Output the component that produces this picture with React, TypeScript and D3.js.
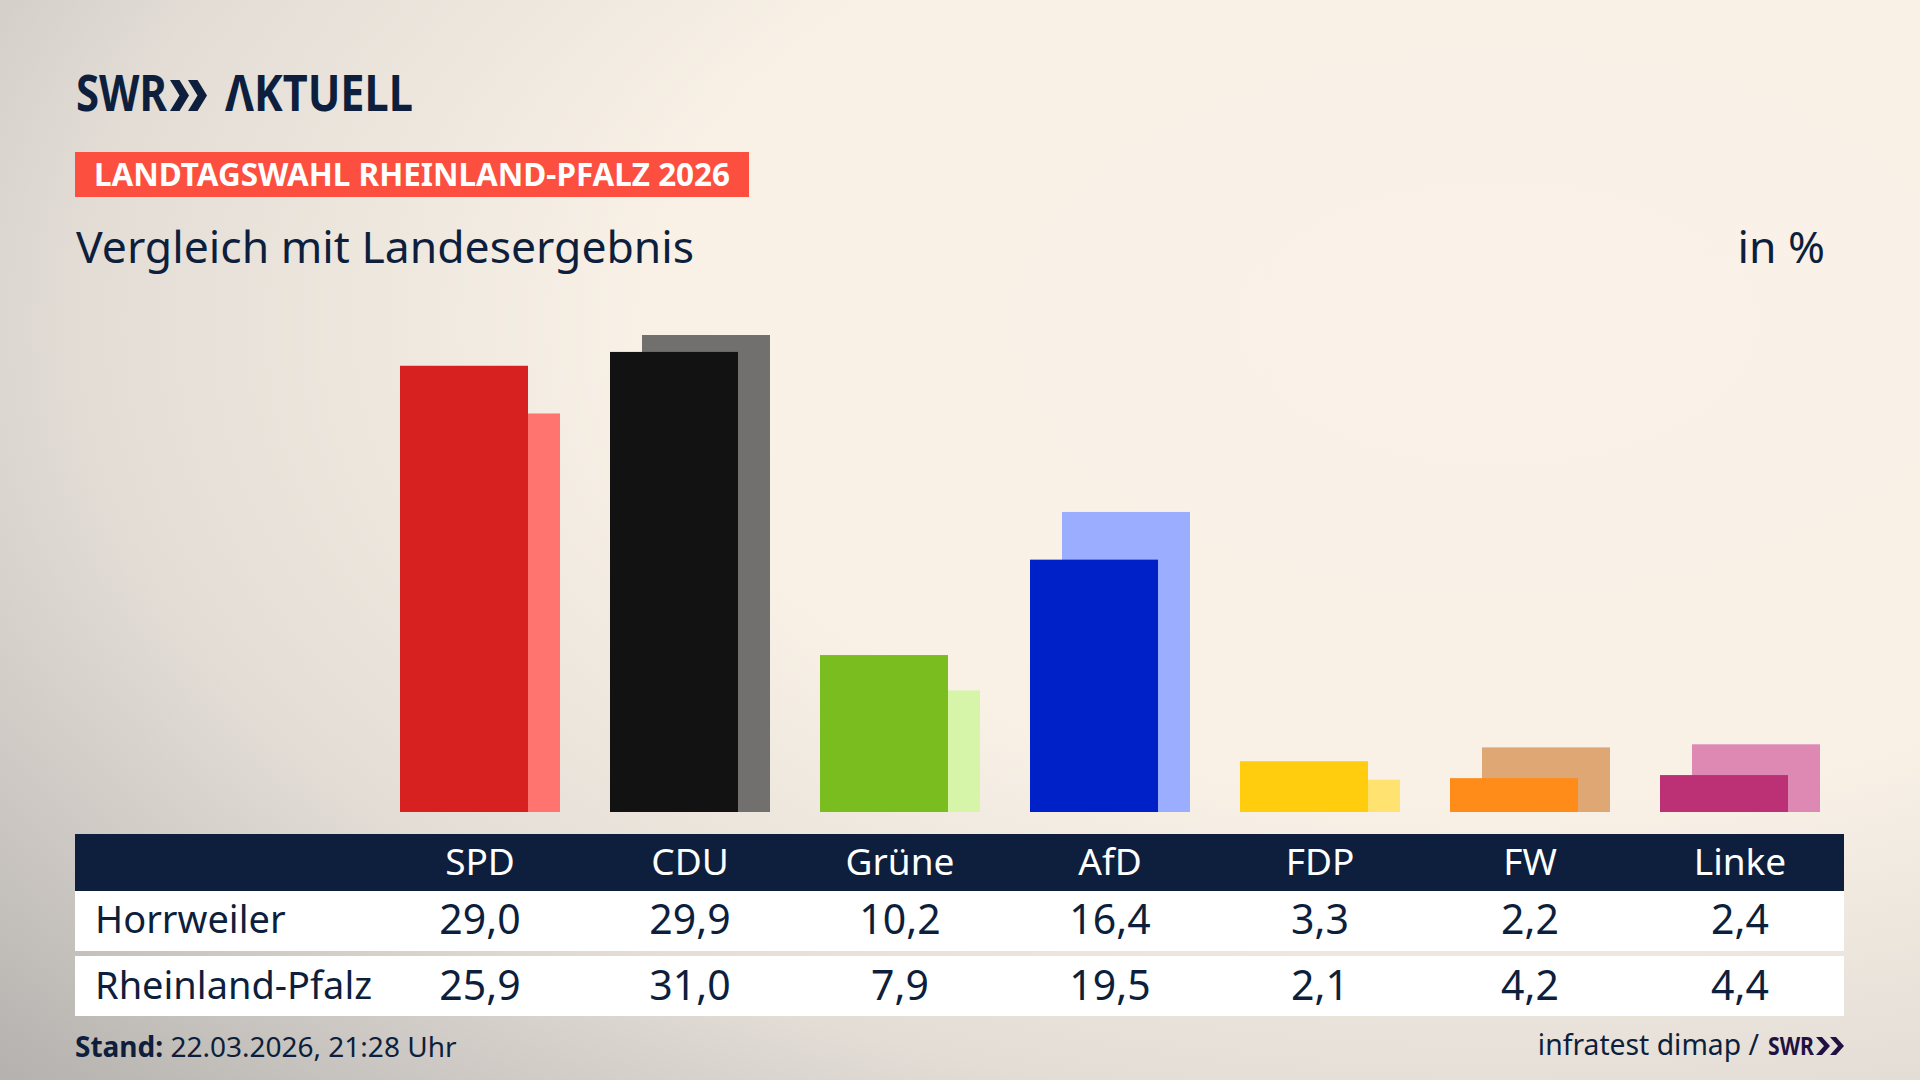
import React from "react";
import * as d3 from "d3";

const parties = ["SPD", "CDU", "Grüne", "AfD", "FDP", "FW", "Linke"];
const localValues = [29.0, 29.9, 10.2, 16.4, 3.3, 2.2, 2.4];
const stateValues = [25.9, 31.0, 7.9, 19.5, 2.1, 4.2, 4.4];
const rowLabels = ["Horrweiler", "Rheinland-Pfalz"];
const darkColors = ["#d72020", "#121212", "#7abd1e", "#0021c7", "#ffcd0e", "#ff8b19", "#bc3075"];
const lightColors = ["#ff746e", "#72706e", "#d7f5a9", "#9badff", "#ffe270", "#dfa773", "#de88b4"];

const W = 1920;
const H = 1080;
const NAVY = "#0d1f3c";
const PURPLE = "#1f1240";
const FONT = "'Noto Sans', 'Open Sans', sans-serif";

function fmt(v: number) {
  return d3.format(".1f")(v).replace(".", ",");
}

export default function App() {
  const x = d3
    .scaleBand<string>()
    .domain(parties)
    .range([375, 1845])
    .paddingInner(50 / 210)
    .paddingOuter(25 / 210);
  const maxV = d3.max([...localValues, ...stateValues]) as number;
  const y = d3.scaleLinear().domain([0, maxV]).range([812, 335]);
  const bw = x.bandwidth();
  const barW = bw * 0.8;
  const off = bw - barW;

  const chev = (dx: number, top: number, h: number, w: number, t: number) =>
    `M${dx},${top} L${dx + t},${top} L${dx + w},${top + h / 2} L${dx + t},${top + h} L${dx},${top + h} L${dx + w - t},${top + h / 2} Z`;

  return (
    <svg
      width={W}
      height={H}
      viewBox={`0 0 ${W} ${H}`}
      style={{ position: "absolute", left: 0, top: 0, display: "block" }}
      fontFamily={FONT}
    >
      <defs>
        <radialGradient id="bg" cx="0.78" cy="0.3" r="1.05" fx="0.78" fy="0.3">
          <stop offset="0" stopColor="#faf2e8" />
          <stop offset="0.42" stopColor="#f9f1e6" />
          <stop offset="0.7" stopColor="#e3ddd6" />
          <stop offset="1" stopColor="#b4b1ae" />
        </radialGradient>
      </defs>
      <rect x={0} y={0} width={W} height={H} fill="url(#bg)" />

      {/* Logo */}
      <text x={76} y={111} fontSize={51} fontWeight={700} fill={NAVY} textLength={91} lengthAdjust="spacingAndGlyphs">
        SWR
      </text>
      <path d={chev(170, 80, 31, 19, 9.5)} fill={NAVY} />
      <path d={chev(188, 80, 31, 19, 9.5)} fill={NAVY} />
      <text x={225} y={111} fontSize={51} fontWeight={700} fill={NAVY} textLength={188} lengthAdjust="spacingAndGlyphs">
        ΛKTUELL
      </text>

      {/* Label */}
      <rect x={75} y={152} width={674} height={45} fill="#fd4f3f" />
      <text x={94} y={186} fontSize={33} fontWeight={700} fill="#ffffff" textLength={636} lengthAdjust="spacingAndGlyphs">
        LANDTAGSWAHL RHEINLAND-PFALZ 2026
      </text>

      {/* Title */}
      <text x={76} y={263} fontSize={44.5} fill={NAVY}>
        Vergleich mit Landesergebnis
      </text>
      <text x={1825} y={263} fontSize={44.5} fill={NAVY} textAnchor="end">
        in %
      </text>

      {/* Bars */}
      {parties.map((p, i) => (
        <g key={p}>
          <rect
            x={(x(p) as number) + off}
            y={y(stateValues[i])}
            width={barW}
            height={y(0) - y(stateValues[i])}
            fill={lightColors[i]}
          />
          <rect
            x={x(p) as number}
            y={y(localValues[i])}
            width={barW}
            height={y(0) - y(localValues[i])}
            fill={darkColors[i]}
          />
        </g>
      ))}

      {/* Table */}
      <rect x={75} y={834} width={1769} height={57} fill={NAVY} />
      <rect x={75} y={891} width={1769} height={60} fill="#ffffff" />
      <rect x={75} y={956} width={1769} height={60} fill="#ffffff" />
      {parties.map((p) => (
        <text key={p} x={(x(p) as number) + bw / 2} y={875} fontSize={37} fill="#ffffff" textAnchor="middle">
          {p}
        </text>
      ))}
      <text x={95} y={933} fontSize={38} fill={NAVY}>
        {rowLabels[0]}
      </text>
      <text x={95} y={999} fontSize={38} fill={NAVY}>
        {rowLabels[1]}
      </text>
      {parties.map((p, i) => (
        <g key={"v" + p}>
          <text x={(x(p) as number) + bw / 2} y={934} fontSize={41} fill={NAVY} textAnchor="middle">
            {fmt(localValues[i])}
          </text>
          <text x={(x(p) as number) + bw / 2} y={1000} fontSize={41} fill={NAVY} textAnchor="middle">
            {fmt(stateValues[i])}
          </text>
        </g>
      ))}

      {/* Footer */}
      <text x={75} y={1057} fontSize={28} fill={NAVY}>
        <tspan fontWeight={700}>Stand:</tspan>
        <tspan> 22.03.2026, 21:28 Uhr</tspan>
      </text>
      <text x={1759} y={1055} fontSize={28.3} fill={NAVY} textAnchor="end">
        infratest dimap /
      </text>
      <text x={1768} y={1055} fontSize={25} fontWeight={700} fill={PURPLE} textLength={46} lengthAdjust="spacingAndGlyphs">
        SWR
      </text>
      <path d={chev(1816, 1037, 18, 14, 6)} fill={PURPLE} />
      <path d={chev(1830, 1037, 18, 14, 6)} fill={PURPLE} />
    </svg>
  );
}
